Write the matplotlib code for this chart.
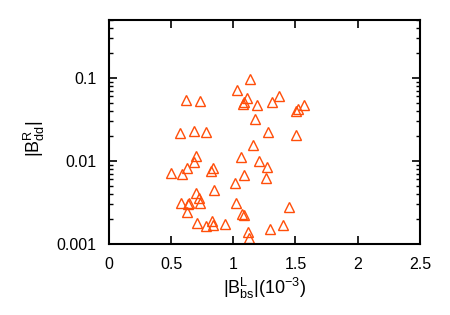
import matplotlib
matplotlib.use('Agg')
import matplotlib.pyplot as plt
from matplotlib.ticker import LogLocator, NullFormatter, FixedLocator, FixedFormatter

plt.rcParams['font.family'] = ['Liberation Sans', 'DejaVu Sans']
plt.rcParams['mathtext.fontset'] = 'custom'
plt.rcParams['mathtext.rm'] = 'Liberation Sans'
plt.rcParams['mathtext.it'] = 'Liberation Sans'

# |B_bs^L| in units of 1e-3
bs_L = [1.135, 1.033, 0.62, 0.735, 1.113, 1.086, 1.076, 1.188, 1.314, 1.365,
        1.569, 1.518, 1.502, 1.175, 0.569, 0.681, 0.781, 1.277, 1.507, 1.159,
        0.70, 0.684, 1.062, 1.204, 1.271, 0.627, 0.84, 0.821, 0.499, 0.587,
        1.084, 1.266, 1.011, 0.848, 0.703, 0.721, 0.579, 0.646, 0.633, 0.73,
        1.025, 1.451, 0.628, 1.073, 1.086, 0.706, 0.781, 0.832, 0.837, 0.931,
        1.398, 1.298, 1.119, 1.129]
# |B_dd^R|
dd_R = [0.096, 0.072, 0.055, 0.0535, 0.057, 0.052, 0.048, 0.047, 0.0516, 0.060,
        0.047, 0.042, 0.040, 0.0318, 0.022, 0.0229, 0.0225, 0.0225, 0.0203, 0.0158,
        0.0116, 0.0097, 0.0113, 0.010, 0.0085, 0.0082, 0.0083, 0.0076, 0.0071, 0.0070,
        0.0068, 0.0063, 0.0055, 0.00445, 0.0041, 0.00356, 0.0031, 0.00315, 0.0030, 0.0031,
        0.0031, 0.00276, 0.00243, 0.0023, 0.00223, 0.00178, 0.00167, 0.00188, 0.00172, 0.00173,
        0.0017, 0.00152, 0.00141, 0.00118]

fig = plt.figure(figsize=(4.5, 3.15), dpi=100)
ax = fig.add_axes([0.242, 0.225, 0.691, 0.712])

ax.plot(bs_L, dd_R, linestyle='none', marker='^', markersize=6.5,
        markerfacecolor='none', markeredgecolor='#ff4e0a', markeredgewidth=1.0)

ax.set_yscale('log')
ax.set_xlim(0, 2.5)
ax.set_ylim(0.001, 0.5)

ax.xaxis.set_major_locator(FixedLocator([0, 0.5, 1, 1.5, 2, 2.5]))
ax.xaxis.set_major_formatter(FixedFormatter(['0', '0.5', '1', '1.5', '2', '2.5']))
ax.yaxis.set_major_locator(FixedLocator([0.001, 0.01, 0.1]))
ax.yaxis.set_major_formatter(FixedFormatter(['0.001', '0.01', '0.1']))
ax.yaxis.set_minor_locator(LogLocator(base=10, subs=range(2, 10)))
ax.yaxis.set_minor_formatter(NullFormatter())

ax.tick_params(which='both', direction='in', top=True, right=True)
ax.tick_params(which='major', length=6, width=1.2, pad=9, labelsize=11.5)
ax.tick_params(which='minor', length=3, width=1.0)
for s in ax.spines.values():
    s.set_linewidth(1.5)

ax.set_xlabel(r'$\mathregular{|B^{L}_{bs}|(10^{-3})}$', fontsize=13, labelpad=3)
ax.set_ylabel(r'$\mathregular{|B^{R}_{dd}|}$', fontsize=13)
ax.yaxis.set_label_coords(-0.2, 0.47)

fig.savefig('out.png', dpi=100)
